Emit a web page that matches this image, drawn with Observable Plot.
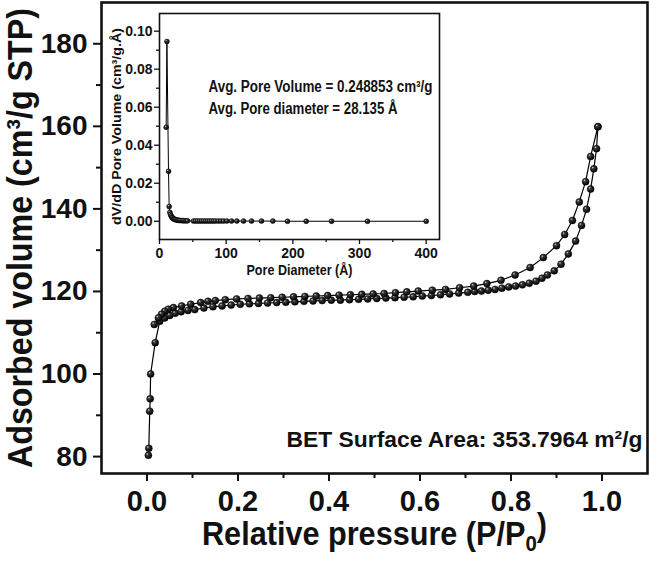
<!DOCTYPE html>
<html><head><meta charset="utf-8">
<script src="https://cdn.jsdelivr.net/npm/d3@7"></script>
<script src="https://cdn.jsdelivr.net/npm/@observablehq/plot@0.6"></script>
<style>
body{margin:0;background:#fff}
#wrap{position:relative;width:650px;height:565px;overflow:hidden}
#wrap > svg{position:absolute;left:0;top:0}
#inset{position:absolute;left:100px;top:0}
#inset svg{overflow:visible}
</style></head><body><div id="wrap"><div id="inset"></div></div>
<script>
const FONT = '"Liberation Sans",Arial,sans-serif';

// Adsorption branch (lower)
const adsP = [0.003,0.004,0.006,0.007,0.008,0.018,0.028,0.039,0.050,0.062,0.075,0.090,0.105,0.125,0.145,0.165,0.185,0.205,0.225,0.245,0.265,0.285,0.305,0.325,0.345,0.365,0.385,0.405,0.425,0.445,0.465,0.485,0.505,0.525,0.545,0.565,0.585,0.605,0.625,0.645,0.665,0.685,0.705,0.72,0.735,0.75,0.765,0.78,0.795,0.81,0.825,0.84,0.855,0.868,0.88,0.895,0.91,0.926,0.942,0.955,0.966,0.975,0.982,0.988,0.991];
const adsV = [80.3,82.0,91.0,94.0,100.0,107.6,112.8,113.6,114.2,114.7,115.1,115.4,115.6,116.0,116.3,116.5,116.7,116.9,117.0,117.1,117.2,117.3,117.4,117.5,117.6,117.7,117.8,117.9,117.9,118.0,118.1,118.2,118.3,118.4,118.5,118.6,118.7,118.9,119.0,119.2,119.4,119.6,119.8,120.0,120.1,120.3,120.5,120.8,121.1,121.3,121.6,122.0,122.5,123.2,124.0,125.0,126.6,129.1,132.2,136.0,139.9,144.8,149.7,154.6,159.9];

// Desorption branch (upper)
const desP = [0.991,0.975,0.964,0.950,0.935,0.918,0.900,0.871,0.842,0.809,0.778,0.747,0.718,0.687,0.656,0.627,0.596,0.571,0.546,0.521,0.497,0.472,0.447,0.422,0.397,0.372,0.347,0.322,0.297,0.272,0.247,0.222,0.197,0.172,0.150,0.134,0.118,0.096,0.076,0.058,0.047,0.039,0.032,0.025,0.016];
const desV = [159.9,152.7,146.6,141.7,137.2,133.8,131.1,128.2,125.8,124.0,122.7,121.9,121.3,120.9,120.5,120.3,120.1,119.9,119.7,119.5,119.4,119.3,119.2,119.1,119.0,118.9,118.8,118.7,118.6,118.5,118.4,118.3,118.2,118.0,117.8,117.6,117.3,116.9,116.5,116.1,115.7,115.2,114.5,113.6,112.0];

// Inset: pore size distribution
const poreD = [10,11.1,13.5,14.5,15.5,16.5,17.5,18.5,19.5,20.5,21.5,22.5,24,25.5,27,28.5,30,32,34,36,38,40,42,51,54,57,60,63,66,69,72,75,78,81,84,88,92,96,101,108,116,126,138,153,170,192,220,258,312,400];
const poreDV = [0.0495,0.0946,0.0263,0.0077,0.0047,0.0035,0.0028,0.0022,0.0018,0.0015,0.0012,0.0010,0.0008,0.0007,0.0006,0.0005,0.0004,0.0004,0.0003,0.0003,0.0002,0.0002,0.0002,0.0001,0.0001,0.0001,0.0001,0.0001,0.0001,0.0001,0.0001,0.0001,0.0001,0.0001,0.0001,0.0001,0.0001,0.0001,0.0001,0.0001,0.0001,0.0001,0.0001,0.0001,0.0001,0.0000,0.0000,0.0000,0.0000,0.0000];

const mainXTicks = [0,0.2,0.4,0.6,0.8,1.0];
const mainXMinor = [0.1,0.3,0.5,0.7,0.9];
const mainYTicks = [80,100,120,140,160,180];
const mainYMinor = [90,110,130,150,170];
const insetXTicks = [0,100,200,300,400];
const insetXMinor = [50,150,250,350];
const insetYTicks = [0,0.02,0.04,0.06,0.08,0.10];
const insetYMinor = [0.01,0.03,0.05,0.07,0.09];

const xTitle = "Relative pressure (P/P0)";
const yTitle = "Adsorbed volume (cm\u00B3/g STP)";
const betText = "BET Surface Area: 353.7964 m\u00B2/g";
const insetXTitle = "Pore Diameter (\u00C5)";
const insetYTitle = "dV/dD Pore Volume (cm\u00B3/g.\u00C5)";
const ann1 = "Avg. Pore Volume = 0.248853 cm\u00B3/g";
const ann2 = "Avg. Pore diameter = 28.135 \u00C5";

const ads = adsP.map((p,i)=>({p, v: adsV[i]}));
const des = desP.map((p,i)=>({p, v: desV[i]}));
const pore = poreD.map((d,i)=>({d, dv: poreDV[i]}));

function addGrad(svg, id){
  const defs = d3.select(svg).insert("defs", ":first-child");
  const g = defs.append("radialGradient").attr("id", id).attr("cx","40%").attr("cy","38%").attr("r","62%").attr("fx","33%").attr("fy","30%");
  g.append("stop").attr("offset","0%").attr("stop-color","#d8d8d8");
  g.append("stop").attr("offset","28%").attr("stop-color","#3a3a3a");
  g.append("stop").attr("offset","100%").attr("stop-color","#000");
}
function fit(svg, key, len){
  svg.querySelectorAll("text").forEach(function(el){
    if (el.textContent.indexOf(key) === 0) {
      el.setAttribute("textLength", len);
      el.setAttribute("lengthAdjust", "spacingAndGlyphs");
    }
  });
}

const main = Plot.plot({
  width: 650, height: 565,
  marginLeft: 101, marginRight: 3, marginTop: 2, marginBottom: 92,
  style: {fontFamily: FONT, fontWeight: "bold", background: "transparent", color: "#111"},
  x: {domain: [-0.1, 1.1]},
  y: {domain: [75.9, 190]},
  marks: [
    Plot.axisX({ticks: mainXTicks, tickSize: 8, tickPadding: 9, fontSize: 29, strokeWidth: 2, tickFormat: d3.format(".1f"), label: null}),
    Plot.axisX({ticks: mainXMinor, tickSize: 5, strokeWidth: 2, tickFormat: () => "", label: null}),
    Plot.axisY({ticks: mainYTicks, tickSize: 8, tickPadding: 6, fontSize: 28, strokeWidth: 2, label: null}),
    Plot.axisY({ticks: mainYMinor, tickSize: 5, strokeWidth: 2, tickFormat: () => "", label: null}),
    Plot.line(ads, {x: "p", y: "v", stroke: "#000", strokeWidth: 1.2}),
    Plot.line(des, {x: "p", y: "v", stroke: "#000", strokeWidth: 1.2}),
    Plot.dot(ads, {x: "p", y: "v", r: 3.5, fill: "url(#ballM)", stroke: "#000", strokeWidth: 0.5}),
    Plot.dot(des, {x: "p", y: "v", r: 3.5, fill: "url(#ballM)", stroke: "#000", strokeWidth: 0.5}),
    Plot.text([yTitle], {frameAnchor: "left", textAnchor: "middle", rotate: -90, dx: -81, fontSize: 35, fill: "#111"}),
    Plot.text([xTitle], {frameAnchor: "bottom", dy: 71, fontSize: 33, fill: "#111"}),
    Plot.text([betText], {frameAnchor: "bottom-right", textAnchor: "end", dx: -5, dy: -27, fontSize: 22, fill: "#111"}),
    Plot.frame({stroke: "#111", strokeWidth: 2.6})
  ]
});
addGrad(main, "ballM");
document.getElementById("wrap").prepend(main);
fit(main, "Adsorbed", 460);
fit(main, "BET", 356);
// subscript 0 in x title
main.querySelectorAll("text").forEach(function(el){
  if (el.textContent === xTitle) {
    const t = d3.select(el);
    t.text(null);
    t.append("tspan").text("Relative pressure (P/P");
    t.append("tspan").attr("dy", "0.3em").attr("font-size", "22").text("0");
    t.append("tspan").attr("dy", "-0.45em").text(")");
    t.attr("textLength", 345).attr("lengthAdjust", "spacingAndGlyphs");
  }
});

const inset = Plot.plot({
  width: 345, height: 282,
  marginLeft: 59, marginRight: 6, marginTop: 13, marginBottom: 43,
  style: {fontFamily: FONT, fontWeight: "bold", background: "transparent", color: "#111"},
  x: {domain: [0, 420]},
  y: {domain: [-0.0096, 0.1093]},
  marks: [
    Plot.axisX({ticks: insetXTicks, tickSize: 5, tickPadding: 4, fontSize: 14, strokeWidth: 1.3, label: null}),
    Plot.axisX({ticks: insetXMinor, tickSize: 3, strokeWidth: 1.3, tickFormat: () => "", label: null}),
    Plot.axisY({ticks: insetYTicks, tickSize: 5, tickPadding: 2, fontSize: 14, strokeWidth: 1.3, tickFormat: d3.format(".2f"), label: null}),
    Plot.axisY({ticks: insetYMinor, tickSize: 3, strokeWidth: 1.3, tickFormat: () => "", label: null}),
    Plot.line(pore, {x: "d", y: "dv", stroke: "#000", strokeWidth: 1}),
    Plot.dot(pore, {x: "d", y: "dv", r: 2.5, fill: "url(#ballI)", stroke: "#000", strokeWidth: 0.4}),
    Plot.text([insetYTitle], {frameAnchor: "left", textAnchor: "middle", rotate: -90, dx: -43, fontSize: 13.5, fill: "#111"}),
    Plot.text([insetXTitle], {frameAnchor: "bottom", dy: 35, fontSize: 15, fill: "#111"}),
    Plot.text([ann1], {frameAnchor: "top-left", textAnchor: "start", dx: 49, dy: 67, fontSize: 16, fill: "#111"}),
    Plot.text([ann2], {frameAnchor: "top-left", textAnchor: "start", dx: 49, dy: 89, fontSize: 16, fill: "#111"}),
    Plot.frame({stroke: "#111", strokeWidth: 1.6})
  ]
});
addGrad(inset, "ballI");
document.getElementById("inset").appendChild(inset);
fit(inset, "dV/dD", 197);
fit(inset, "Pore Diameter", 106);
fit(inset, "Avg. Pore Volume", 224);
fit(inset, "Avg. Pore diameter", 189);
</script>
</body></html>
